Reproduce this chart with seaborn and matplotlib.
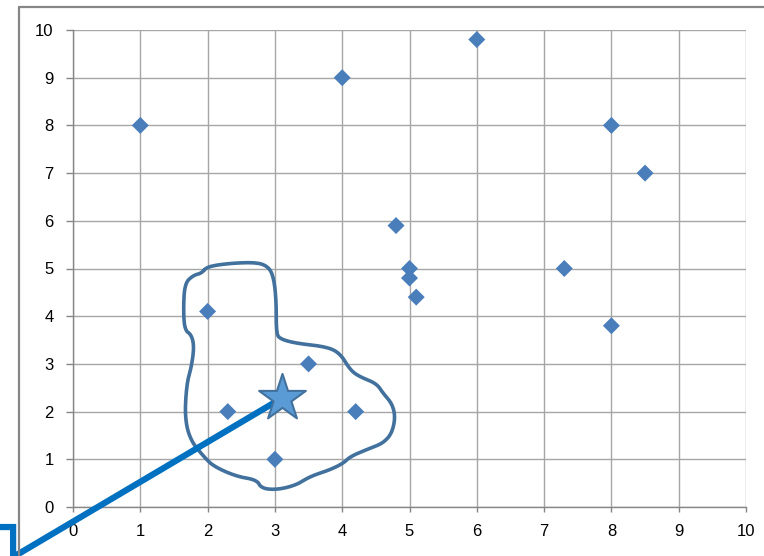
import matplotlib
matplotlib.use("Agg")
import matplotlib.pyplot as plt
import seaborn as sns
import pandas as pd
import numpy as np
from matplotlib.lines import Line2D

sns.set_theme(style="white")
plt.rcParams["font.family"] = ["Liberation Sans", "DejaVu Sans"]

# scatter points
x_vals = [1, 4, 6, 8, 8.5, 4.8, 5, 5, 5.1, 7.3, 8, 2, 3.5, 2.3, 4.2, 3]
y_vals = [8, 9, 9.8, 8, 7, 5.9, 5, 4.8, 4.4, 5, 3.8, 4.1, 3, 2, 2, 1]

# highlighted point (star)
star_x = [3.1]
star_y = [2.28]

# hand-drawn outline around the cluster
outline_x = [1.91, 1.99, 2.33, 2.73, 2.90, 2.98, 3.02, 3.02, 3.08, 3.32, 3.77, 3.97,
             4.12, 4.26, 4.51, 4.61, 4.74, 4.79, 4.74, 4.61, 4.41, 4.12, 4.02, 3.82,
             3.52, 3.32, 3.03, 2.80, 2.73, 2.43, 2.09, 1.94, 1.74, 1.66, 1.69, 1.76,
             1.80, 1.76, 1.66, 1.64, 1.66, 1.79]
outline_y = [4.90, 5.04, 5.11, 5.13, 5.04, 4.83, 4.34, 3.64, 3.52, 3.43, 3.36, 3.22,
             2.87, 2.73, 2.59, 2.38, 2.17, 1.89, 1.55, 1.34, 1.23, 1.06, 0.92, 0.78,
             0.64, 0.46, 0.36, 0.39, 0.57, 0.64, 0.85, 1.06, 1.41, 1.89, 2.59, 2.94,
             3.36, 3.61, 3.71, 4.13, 4.69, 4.86]

# callout line leaving the plot toward the lower-left corner
callout_x = [-1.2, -0.89, -0.89, 3.1]
callout_y = [-0.42, -0.42, -1.05, 2.28]

ticks = list(range(0, 11))


def smooth_closed(xs, ys, rounds=3):
    """Chaikin corner cutting for a closed freehand outline."""
    pts = np.column_stack([xs, ys])
    for _ in range(rounds):
        nxt = np.roll(pts, -1, axis=0)
        q = 0.75 * pts + 0.25 * nxt
        r = 0.25 * pts + 0.75 * nxt
        pts = np.empty((2 * len(q), 2))
        pts[0::2] = q
        pts[1::2] = r
    pts = np.vstack([pts, pts[:1]])
    return pts[:, 0], pts[:, 1]


fig = plt.figure(figsize=(7.64, 5.56), dpi=100)
ax = fig.add_axes([73 / 764, 49 / 556, 673 / 764, 477 / 556])

grid_c = "#A6A6A6"
axis_c = "#868686"

sx, sy = smooth_closed(outline_x, outline_y)
ax.plot(sx, sy, color="#41719C", lw=2.6, solid_joinstyle="round",
        solid_capstyle="round", zorder=3)
ax.plot(callout_x, callout_y, color="#0070C0", lw=4.5, clip_on=False,
        solid_joinstyle="miter", zorder=4)

df = pd.DataFrame({"x": x_vals, "y": y_vals})
sns.scatterplot(data=df, x="x", y="y", ax=ax, marker="D", s=75,
                color="#4A7EBB", edgecolor="none", linewidth=0, zorder=5)
ax.scatter(star_x, star_y, marker="*", s=1250, color="#5B9BD5",
           edgecolor="#41719C", linewidth=1.5, zorder=6)

ax.set_xlim(0, 10)
ax.set_ylim(0, 10)
ax.set_xticks(ticks)
ax.set_yticks(ticks)
ax.set_xticklabels([str(t) for t in ticks])
ax.set_yticklabels([str(t) for t in ticks])
ax.set_xlabel("")
ax.set_ylabel("")
ax.grid(True, color=grid_c, lw=1.0)
ax.set_axisbelow(True)
for side in ["top", "right"]:
    ax.spines[side].set_visible(False)
for side in ["left", "bottom"]:
    ax.spines[side].set_color(axis_c)
    ax.spines[side].set_linewidth(1.0)
ax.tick_params(axis="both", which="both", direction="out", width=1,
               color=axis_c, labelsize=12, labelcolor="#000000",
               left=True, bottom=True)
ax.tick_params(axis="x", length=3.6, pad=9)
ax.tick_params(axis="y", length=5, pad=9)

# outer chart-area border (partially visible)
fig.add_artist(Line2D([19 / 764, 1.0], [1 - 7 / 556, 1 - 7 / 556],
                      color=axis_c, lw=1.6, transform=fig.transFigure))
fig.add_artist(Line2D([19 / 764, 19 / 764], [0.0, 1 - 7 / 556],
                      color=axis_c, lw=1.6, transform=fig.transFigure))

fig.savefig("out.png", dpi=100, facecolor="white")
